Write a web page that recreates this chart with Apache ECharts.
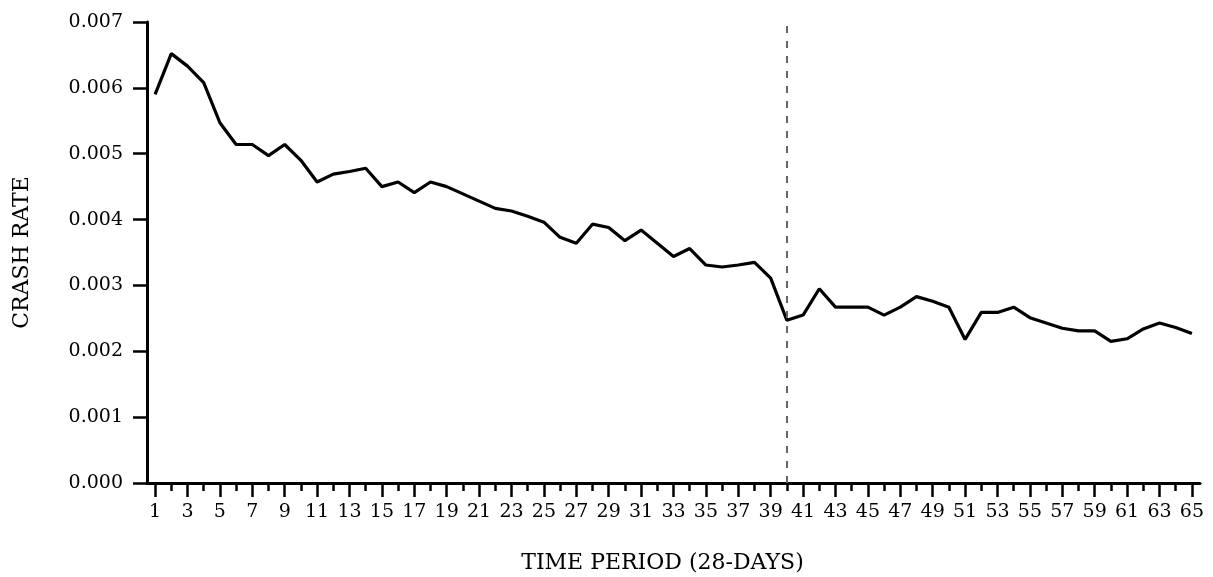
<!DOCTYPE html>
<html>
<head>
<meta charset="utf-8">
<script src="https://cdn.jsdelivr.net/npm/echarts@6/dist/echarts.min.js"></script>
<style>
  html, body { margin: 0; padding: 0; background: #fff; }
  #main { width: 1213px; height: 577px; }
</style>
</head>
<body>
<div id="main"></div>
<script>
// 时间段 1..65 (28天一期)
var periods = [];
for (var p = 1; p <= 65; p++) periods.push(String(p));

// 事故率，从图上读出的估计值
var crashRate = [
  0.00590, 0.00652, 0.00633, 0.00608, 0.00547, 0.00514, 0.00514, 0.00497, 0.00514, 0.00490,
  0.00457, 0.00469, 0.00473, 0.00478, 0.00450, 0.00457, 0.00441, 0.00457, 0.00450, 0.00439,
  0.00428, 0.00417, 0.00413, 0.00405, 0.00396, 0.00373, 0.00364, 0.00393, 0.00388, 0.00368,
  0.00384, 0.00364, 0.00344, 0.00356, 0.00331, 0.00328, 0.00331, 0.00335, 0.00311, 0.00247,
  0.00255, 0.00295, 0.00267, 0.00267, 0.00267, 0.00255, 0.00267, 0.00283, 0.00276, 0.00267,
  0.00218, 0.00259, 0.00259, 0.00267, 0.00251, 0.00243, 0.00235, 0.00231, 0.00231, 0.00215,
  0.00219, 0.00234, 0.00243, 0.00236, 0.00227
];

var breakPeriod = '40';
var yTicks = [0, 0.001, 0.002, 0.003, 0.004, 0.005, 0.006, 0.007];

var fontFamily = 'DejaVu Serif';
var ink = '#000';

var myChart = echarts.init(document.getElementById('main'));
var option = {
  animation: false,
  backgroundColor: '#fff',
  grid: {
    left: 147,
    right: 13,
    top: 22,
    bottom: 94,
    containLabel: false,
    outerBoundsMode: 'none'
  },
  xAxis: [
    {
      type: 'category',
      position: 'bottom',
      data: periods,
      boundaryGap: true,
      name: 'TIME PERIOD (28-DAYS)',
      nameLocation: 'middle',
      nameGap: 69,
      nameTextStyle: {
        fontFamily: fontFamily,
        fontSize: 22,
        color: ink,
        padding: [0, 22, 0, 0]
      },
      axisLine: { show: true, lineStyle: { color: ink, width: 3 } },
      // 奇数期长刻度
      axisTick: { show: true, alignWithLabel: true, interval: 1, length: 14, lineStyle: { color: ink, width: 2.5 } },
      axisLabel: {
        interval: 1,
        margin: 20,
        fontFamily: fontFamily,
        fontSize: 19,
        color: ink,
        hideOverlap: false
      },
      splitLine: { show: false }
    },
    {
      // 每期短刻度
      type: 'category',
      position: 'bottom',
      offset: 0,
      data: periods,
      boundaryGap: true,
      axisLine: { show: false },
      axisTick: { show: true, alignWithLabel: true, interval: 0, length: 8, lineStyle: { color: ink, width: 2.5 } },
      axisLabel: { show: false },
      splitLine: { show: false }
    }
  ],
  yAxis: {
    type: 'value',
    min: yTicks[0],
    max: yTicks[yTicks.length - 1],
    interval: 0.001,
    name: 'CRASH RATE',
    nameLocation: 'middle',
    nameGap: 114,
    nameTextStyle: {
      fontFamily: fontFamily,
      fontSize: 22,
      color: ink
    },
    axisLine: { show: true, lineStyle: { color: ink, width: 3 } },
    axisTick: { show: true, length: 14, lineStyle: { color: ink, width: 2.5 } },
    axisLabel: {
      margin: 24,
      fontFamily: fontFamily,
      fontSize: 19,
      color: ink,
      formatter: function (v) { return v.toFixed(3); }
    },
    splitLine: { show: false }
  },
  series: [
    {
      name: 'CRASH RATE',
      type: 'line',
      xAxisIndex: 0,
      data: crashRate,
      symbol: 'none',
      smooth: false,
      lineStyle: { color: ink, width: 3.2 },
      markLine: {
        silent: true,
        symbol: ['none', 'none'],
        label: { show: false },
        lineStyle: { color: '#666', width: 2, type: [7, 8] },
        data: [{ xAxis: breakPeriod }]
      },
      z: 3
    }
  ]
};
myChart.setOption(option);
</script>
</body>
</html>
